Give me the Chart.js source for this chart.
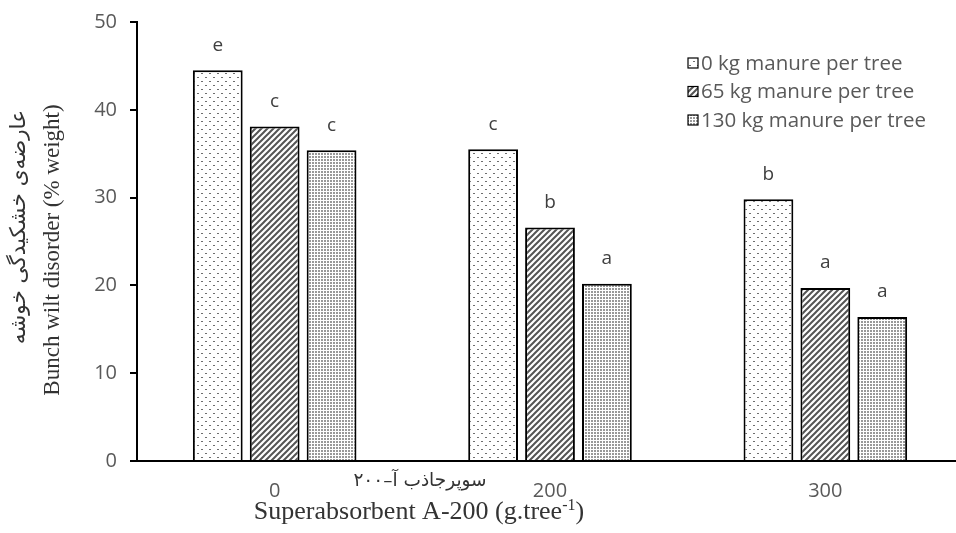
<!DOCTYPE html>
<html>
<head>
<meta charset="utf-8">
<script src="https://cdn.jsdelivr.net/npm/chart.js"></script>
<style>
  body { margin: 0; background: #fff; }
  #wrap { width: 956px; height: 533px; overflow: hidden; }
</style>
</head>
<body>
<div id="wrap"><canvas id="chart" width="963" height="533"></canvas></div>
<script>
// ================= DATA =================
const categories = ["0", "200", "300"];
const seriesNames = ["0 kg manure per tree", "65 kg manure per tree", "130 kg manure per tree"];
const manure0 = [44.5, 35.5, 29.8];
const manure65 = [38.1, 26.6, 19.7];
const manure130 = [35.4, 20.2, 16.4];
const letters0 = ["e", "c", "b"];
const letters65 = ["c", "b", "a"];
const letters130 = ["c", "a", "a"];
const yTicks = [0, 10, 20, 30, 40, 50];

const GREY = "#595959";

// ================= PATTERNS =================
function makePattern(size, draw) {
  const c = document.createElement("canvas");
  c.width = size; c.height = size;
  const g = c.getContext("2d");
  g.fillStyle = "#fff";
  g.fillRect(0, 0, size, size);
  draw(g);
  return c.getContext("2d").createPattern(c, "repeat");
}

const sparseDots = makePattern(8, g => {
  g.fillStyle = "#6e6e6e";
  g.fillRect(1, 1, 2, 1);
  g.fillRect(5, 5, 2, 1);
});

const stripes = makePattern(6, g => {
  g.strokeStyle = "#555";
  g.lineWidth = 2;
  g.beginPath();
  g.moveTo(-1, 7); g.lineTo(7, -1);
  g.moveTo(-4, 4); g.lineTo(4, -4);
  g.moveTo(2, 10); g.lineTo(10, 2);
  g.stroke();
});

const denseDots = makePattern(3, g => {
  g.fillStyle = "#999";
  g.fillRect(0, 0, 2, 2);
});

const fills = [sparseDots, stripes, denseDots];
const letters = [letters0, letters65, letters130];

// ================= PLUGINS =================
const extras = {
  id: "extras",
  afterDatasetsDraw(chart) {
    const ctx = chart.ctx;
    ctx.save();
    // letters above bars
    ctx.fillStyle = "#404040";
    ctx.font = "19px 'Open Sans'";
    ctx.textAlign = "center";
    ctx.textBaseline = "middle";
    chart.data.datasets.forEach((ds, i) => {
      chart.getDatasetMeta(i).data.forEach((bar, j) => {
        ctx.fillText(letters[i][j], bar.x, bar.y - 25);
      });
    });

    // legend
    ctx.font = "20.5px 'Open Sans'";
    ctx.textAlign = "left";
    chart.data.datasets.forEach((ds, i) => {
      const y = 63 + i * 28.5;
      ctx.fillStyle = fills[i];
      ctx.fillRect(688, y - 5, 10, 10);
      ctx.strokeStyle = "#000";
      ctx.lineWidth = 1.2;
      ctx.strokeRect(688, y - 5, 10, 10);
      ctx.fillStyle = GREY;
      ctx.fillText(ds.label, 701, y + 1);
    });

    // y axis titles
    ctx.textBaseline = "alphabetic";
    ctx.save();
    ctx.translate(59, 250);
    ctx.rotate(-Math.PI / 2);
    ctx.textAlign = "center";
    ctx.fillStyle = "#333";
    ctx.font = "23px 'Liberation Serif'";
    ctx.fillText("Bunch wilt disorder (% weight)", 0, 0);
    ctx.restore();

    ctx.save();
    ctx.translate(25, 110);
    ctx.rotate(-Math.PI / 2);
    ctx.textAlign = "right";
    ctx.fillStyle = "#333";
    ctx.font = "21.5px 'DejaVu Sans'";
    ctx.fillText("عارضه‌ی خشکیدگی خوشه", 0, 0);
    ctx.restore();

    // x axis titles
    ctx.fillStyle = "#333";
    ctx.textAlign = "center";
    ctx.font = "18.5px 'DejaVu Sans'";
    ctx.fillText("سوپرجاذب آ–۲۰۰", 420, 486);

    ctx.font = "26px 'Liberation Serif'";
    ctx.textAlign = "left";
    const main = "Superabsorbent A-200 (g.tree";
    const sup = "-1";
    const w1 = ctx.measureText(main).width;
    ctx.font = "16px 'Liberation Serif'";
    const w2 = ctx.measureText(sup).width;
    ctx.font = "26px 'Liberation Serif'";
    const w3 = ctx.measureText(")").width;
    let x = 419 - (w1 + w2 + w3) / 2;
    ctx.fillText(main, x, 519);
    x += w1;
    ctx.font = "16px 'Liberation Serif'";
    ctx.fillText(sup, x, 510);
    x += w2;
    ctx.font = "26px 'Liberation Serif'";
    ctx.fillText(")", x, 519);
    ctx.restore();
  }
};

// ================= CHART =================
new Chart(document.getElementById("chart"), {
  type: "bar",
  data: {
    labels: categories,
    datasets: [manure0, manure65, manure130].map((vals, i) => ({
      label: seriesNames[i],
      data: vals,
      backgroundColor: fills[i],
      borderColor: "#000",
      borderWidth: 2,
      borderSkipped: "bottom",
      categoryPercentage: 0.62,
      barPercentage: 0.875
    }))
  },
  options: {
    responsive: false,
    animation: false,
    layout: { padding: { top: 22, right: 0, left: 0, bottom: 0 } },
    plugins: { legend: { display: false }, tooltip: { enabled: false } },
    scales: {
      x: {
        grid: { display: false, drawTicks: false },
        border: { color: "#000", width: 2 },
        ticks: { color: GREY, font: { family: "Open Sans", size: 20 }, padding: 18 },
        afterFit(scale) { scale.height = 72; }
      },
      y: {
        min: 0,
        max: 50,
        afterBuildTicks(scale) { scale.ticks = yTicks.map(v => ({ value: v })); },
        grid: { drawOnChartArea: false, drawTicks: true, tickLength: 7, color: "#000", lineWidth: 2 },
        border: { color: "#000", width: 2 },
        ticks: { color: GREY, font: { family: "Open Sans", size: 20 }, padding: 13 },
        afterFit(scale) {
          scale.width = 137;
          scale.paddingTop = 0;
          scale.paddingBottom = 0;
        }
      }
    }
  },
  plugins: [extras]
});
</script>
</body>
</html>
